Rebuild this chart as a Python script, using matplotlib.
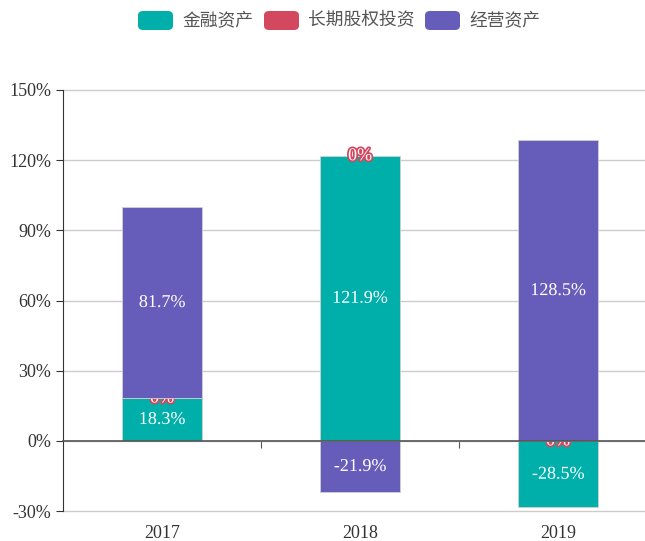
import matplotlib.pyplot as plt
import matplotlib.patheffects as pe
from matplotlib.patches import FancyBboxPatch
import matplotlib.transforms as mtransforms

plt.rcParams['font.family'] = ['Liberation Serif', 'Noto Sans CJK SC']

# data
years = ['2017', '2018', '2019']
series_names = ['金融资产', '长期股权投资', '经营资产']
financial = [18.3, 121.9, -28.5]
equity = [0, 0, 0]
operating = [81.7, -21.9, 128.5]
colors = ['#00afaa', '#d4485f', '#665cb9']
yticks = [-30, 0, 30, 60, 90, 120, 150]

fig = plt.figure(figsize=(6.45, 5.41), dpi=100)
ax = fig.add_axes([63 / 645, 1 - 511 / 541, 594 / 645, 421 / 541])

x = list(range(len(years)))
pos_base = [0.0] * len(years)
neg_base = [0.0] * len(years)
for k, (vals, name, col) in enumerate(zip([financial, equity, operating], series_names, colors)):
    bottoms = []
    for i, v in enumerate(vals):
        if v >= 0:
            bottoms.append(pos_base[i])
            pos_base[i] += v
        else:
            bottoms.append(neg_base[i])
            neg_base[i] += v
    z = 3 + 2 * k
    ax.bar(x, vals, bottom=bottoms, width=0.4, color=col, edgecolor='#d0d0d0',
           linewidth=0.6, zorder=z, label=name)
    for i, v in enumerate(vals):
        cy = bottoms[i] + v / 2
        # white label with a border in the series colour
        ax.text(x[i], cy, f'{v:g}%', ha='center', va='center', fontsize=13,
                color='white', zorder=z + 1 if v == 0 else 10,
                path_effects=[pe.withStroke(linewidth=2.5, foreground=col)])

ax.set_xlim(-0.5, len(years) - 0.5)
ax.set_ylim(-30, 150)
ax.set_yticks(yticks)
ax.set_yticklabels([f'{t}%' for t in yticks], fontsize=13, color='#333333')
ax.yaxis.grid(True, color='#cccccc', linewidth=1, zorder=0)
for gl in ax.get_ygridlines():
    gl.set_clip_on(False)
ax.set_axisbelow(True)

ax.spines['top'].set_visible(False)
ax.spines['right'].set_visible(False)
ax.spines['left'].set_color('#333333')
ax.spines['bottom'].set_position(('data', 0))
ax.spines['bottom'].set_color('#555555')
ax.spines['bottom'].set_linewidth(1.2)
ax.spines['bottom'].set_zorder(9)

ax.set_xticks([i + 0.5 for i in x])
ax.set_xticklabels([])
ax.tick_params(axis='x', length=5, color='#555555')
ax.tick_params(axis='y', length=5, color='#333333')

trans = mtransforms.blended_transform_factory(ax.transData, ax.transAxes)
for i, yr in enumerate(years):
    ax.text(x[i], -0.033, yr, transform=trans, ha='center', va='top',
            fontsize=13, color='#333333')

# legend
lx = [138, 264, 425]
for px, name, col in zip(lx, series_names, colors):
    box = FancyBboxPatch((px / 645, 1 - 30 / 541), 35 / 645, 19 / 541,
                         boxstyle='round,pad=0,rounding_size=0.008',
                         transform=fig.transFigure, facecolor=col,
                         edgecolor='none')
    fig.patches.append(box)
    fig.text((px + 44) / 645, 1 - 20.5 / 541, name, ha='left', va='center',
             fontsize=12.8, color='#555555', family=['Noto Sans CJK SC'])

fig.savefig('out.png', dpi=100)
